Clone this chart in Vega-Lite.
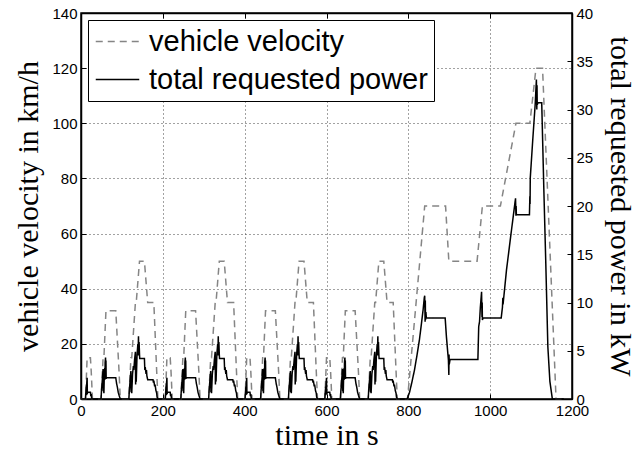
{
  "$schema": "https://vega.github.io/schema/vega-lite/v6.json",
  "width": 491,
  "height": 386,
  "autosize": {"type": "none"},
  "padding": {"left": 81, "top": 13, "right": 67, "bottom": 52},
  "background": "white",
  "config": {
    "view": {"stroke": "black", "strokeWidth": 1.5},
    "axis": {
      "labelFont": "Arial, Liberation Sans, sans-serif", "labelFontSize": 15, "labelColor": "black", "labelFlush": false,
      "titleFont": "Times New Roman, Liberation Serif, serif", "titleFontSize": 30, "titleFontWeight": "normal", "titleColor": "black",
      "domainColor": "black", "domainWidth": 1.5, "tickColor": "black", "tickSize": -5, "labelPadding": 9,
      "gridColor": "#444444", "gridDash": [1, 3], "gridOpacity": 1, "gridWidth": 1
    },
    "legend": {
      "labelFont": "Arial, Liberation Sans, sans-serif", "labelFontSize": 29, "labelColor": "black", "labelLimit": 0,
      "symbolType": "M-1.5,0H1.5", "symbolSize": 841, "symbolStrokeWidth": 1.3, "symbolOffset": 8,
      "strokeColor": "black", "fillColor": "white", "padding": 6, "rowPadding": 7, "labelOffset": 16
    }
  },
  "datasets": {
    "velocity": [
      {"t":0,"v":0},{"t":11,"v":0},{"t":15,"v":15},{"t":23,"v":15},{"t":25,"v":10},{"t":28,"v":0},{"t":49,"v":0},{"t":54,"v":15},{"t":56,"v":15},{"t":61,"v":32},{"t":85,"v":32},{"t":93,"v":10},{"t":96,"v":0},{"t":117,"v":0},{"t":122,"v":15},{"t":124,"v":15},{"t":133,"v":35},{"t":135,"v":35},{"t":143,"v":50},{"t":155,"v":50},{"t":163,"v":35},{"t":178,"v":35},{"t":185,"v":10},{"t":188,"v":0},
      {"t":195,"v":0},{"t":206,"v":0},{"t":210,"v":15},{"t":218,"v":15},{"t":220,"v":10},{"t":223,"v":0},{"t":244,"v":0},{"t":249,"v":15},{"t":251,"v":15},{"t":256,"v":32},{"t":280,"v":32},{"t":288,"v":10},{"t":291,"v":0},{"t":312,"v":0},{"t":317,"v":15},{"t":319,"v":15},{"t":328,"v":35},{"t":330,"v":35},{"t":338,"v":50},{"t":350,"v":50},{"t":358,"v":35},{"t":373,"v":35},{"t":380,"v":10},{"t":383,"v":0},
      {"t":390,"v":0},{"t":401,"v":0},{"t":405,"v":15},{"t":413,"v":15},{"t":415,"v":10},{"t":418,"v":0},{"t":439,"v":0},{"t":444,"v":15},{"t":446,"v":15},{"t":451,"v":32},{"t":475,"v":32},{"t":483,"v":10},{"t":486,"v":0},{"t":507,"v":0},{"t":512,"v":15},{"t":514,"v":15},{"t":523,"v":35},{"t":525,"v":35},{"t":533,"v":50},{"t":545,"v":50},{"t":553,"v":35},{"t":568,"v":35},{"t":575,"v":10},{"t":578,"v":0},
      {"t":585,"v":0},{"t":596,"v":0},{"t":600,"v":15},{"t":608,"v":15},{"t":610,"v":10},{"t":613,"v":0},{"t":634,"v":0},{"t":639,"v":15},{"t":641,"v":15},{"t":646,"v":32},{"t":670,"v":32},{"t":678,"v":10},{"t":681,"v":0},{"t":702,"v":0},{"t":707,"v":15},{"t":709,"v":15},{"t":718,"v":35},{"t":720,"v":35},{"t":728,"v":50},{"t":740,"v":50},{"t":748,"v":35},{"t":763,"v":35},{"t":770,"v":10},{"t":773,"v":0},
      {"t":780,"v":0},{"t":798,"v":0},{"t":840,"v":70},{"t":891,"v":70},{"t":899,"v":50},{"t":968,"v":50},{"t":981,"v":70},{"t":1025,"v":70},{"t":1063,"v":100},{"t":1097,"v":100},{"t":1112,"v":120},{"t":1128,"v":120},{"t":1161,"v":0},{"t":1180,"v":0}
    ],
    "power": [
      {"t":0,"p":0},{"t":11,"p":0},{"t":11.5,"p":0.5},{"t":13,"p":1.3},{"t":13.5,"p":0.4},{"t":14,"p":1.6},{"t":15,"p":2.2},{"t":15.5,"p":0.5},{"t":16,"p":0.7},{"t":23,"p":0.7},{"t":24,"p":0.3},{"t":25,"p":0.5},{"t":26,"p":0.1},{"t":28,"p":0},
      {"t":49,"p":0},{"t":50,"p":0.8},{"t":52,"p":1.9},{"t":54,"p":3.1},{"t":54.5,"p":0.8},{"t":55,"p":1.2},{"t":56,"p":0.6},{"t":57,"p":2.6},{"t":58,"p":3.2},{"t":58.5,"p":2.0},{"t":59,"p":3.8},{"t":60,"p":4.3},{"t":60.5,"p":2.8},{"t":61,"p":4.0},{"t":61.5,"p":2.1},{"t":62,"p":2.2},{"t":85,"p":2.2},{"t":87,"p":1.6},{"t":89,"p":1.2},{"t":91,"p":0.7},{"t":93,"p":0.4},{"t":96,"p":0},
      {"t":117,"p":0},{"t":118,"p":0.8},{"t":120,"p":1.9},{"t":122,"p":2.9},{"t":122.5,"p":0.7},{"t":123,"p":1.3},{"t":124,"p":0.6},{"t":126,"p":2.6},{"t":128,"p":3.4},{"t":129,"p":3.0},{"t":131,"p":4.1},{"t":133,"p":4.9},{"t":133.5,"p":1.5},{"t":134,"p":2.5},{"t":135,"p":1.8},{"t":137,"p":4.6},{"t":139,"p":5.7},{"t":139.5,"p":4.5},{"t":140.5,"p":6.5},{"t":141,"p":5.2},{"t":142,"p":5.9},{"t":143,"p":4.6},{"t":143.5,"p":4.2},{"t":155,"p":4.2},{"t":156,"p":3.0},{"t":157,"p":3.3},{"t":159,"p":2.6},{"t":160,"p":3.0},{"t":161,"p":2.4},{"t":163,"p":2.0},{"t":176,"p":2.0},{"t":177,"p":1.7},{"t":178,"p":1.9},{"t":180,"p":1.3},{"t":181,"p":1.5},{"t":183,"p":0.9},{"t":185,"p":0.6},{"t":186,"p":0.2},{"t":188,"p":0},
      {"t":195,"p":0},{"t":206,"p":0},{"t":206.5,"p":0.5},{"t":208,"p":1.3},{"t":208.5,"p":0.4},{"t":209,"p":1.6},{"t":210,"p":2.2},{"t":210.5,"p":0.5},{"t":211,"p":0.7},{"t":218,"p":0.7},{"t":219,"p":0.3},{"t":220,"p":0.5},{"t":221,"p":0.1},{"t":223,"p":0},
      {"t":244,"p":0},{"t":245,"p":0.8},{"t":247,"p":1.9},{"t":249,"p":3.1},{"t":249.5,"p":0.8},{"t":250,"p":1.2},{"t":251,"p":0.6},{"t":252,"p":2.6},{"t":253,"p":3.2},{"t":253.5,"p":2.0},{"t":254,"p":3.8},{"t":255,"p":4.3},{"t":255.5,"p":2.8},{"t":256,"p":4.0},{"t":256.5,"p":2.1},{"t":257,"p":2.2},{"t":280,"p":2.2},{"t":282,"p":1.6},{"t":284,"p":1.2},{"t":286,"p":0.7},{"t":288,"p":0.4},{"t":291,"p":0},
      {"t":312,"p":0},{"t":313,"p":0.8},{"t":315,"p":1.9},{"t":317,"p":2.9},{"t":317.5,"p":0.7},{"t":318,"p":1.3},{"t":319,"p":0.6},{"t":321,"p":2.6},{"t":323,"p":3.4},{"t":324,"p":3.0},{"t":326,"p":4.1},{"t":328,"p":4.9},{"t":328.5,"p":1.5},{"t":329,"p":2.5},{"t":330,"p":1.8},{"t":332,"p":4.6},{"t":334,"p":5.7},{"t":334.5,"p":4.5},{"t":335.5,"p":6.5},{"t":336,"p":5.2},{"t":337,"p":5.9},{"t":338,"p":4.6},{"t":338.5,"p":4.2},{"t":350,"p":4.2},{"t":351,"p":3.0},{"t":352,"p":3.3},{"t":354,"p":2.6},{"t":355,"p":3.0},{"t":356,"p":2.4},{"t":358,"p":2.0},{"t":371,"p":2.0},{"t":372,"p":1.7},{"t":373,"p":1.9},{"t":375,"p":1.3},{"t":376,"p":1.5},{"t":378,"p":0.9},{"t":380,"p":0.6},{"t":381,"p":0.2},{"t":383,"p":0},
      {"t":390,"p":0},{"t":401,"p":0},{"t":401.5,"p":0.5},{"t":403,"p":1.3},{"t":403.5,"p":0.4},{"t":404,"p":1.6},{"t":405,"p":2.2},{"t":405.5,"p":0.5},{"t":406,"p":0.7},{"t":413,"p":0.7},{"t":414,"p":0.3},{"t":415,"p":0.5},{"t":416,"p":0.1},{"t":418,"p":0},
      {"t":439,"p":0},{"t":440,"p":0.8},{"t":442,"p":1.9},{"t":444,"p":3.1},{"t":444.5,"p":0.8},{"t":445,"p":1.2},{"t":446,"p":0.6},{"t":447,"p":2.6},{"t":448,"p":3.2},{"t":448.5,"p":2.0},{"t":449,"p":3.8},{"t":450,"p":4.3},{"t":450.5,"p":2.8},{"t":451,"p":4.0},{"t":451.5,"p":2.1},{"t":452,"p":2.2},{"t":475,"p":2.2},{"t":477,"p":1.6},{"t":479,"p":1.2},{"t":481,"p":0.7},{"t":483,"p":0.4},{"t":486,"p":0},
      {"t":507,"p":0},{"t":508,"p":0.8},{"t":510,"p":1.9},{"t":512,"p":2.9},{"t":512.5,"p":0.7},{"t":513,"p":1.3},{"t":514,"p":0.6},{"t":516,"p":2.6},{"t":518,"p":3.4},{"t":519,"p":3.0},{"t":521,"p":4.1},{"t":523,"p":4.9},{"t":523.5,"p":1.5},{"t":524,"p":2.5},{"t":525,"p":1.8},{"t":527,"p":4.6},{"t":529,"p":5.7},{"t":529.5,"p":4.5},{"t":530.5,"p":6.5},{"t":531,"p":5.2},{"t":532,"p":5.9},{"t":533,"p":4.6},{"t":533.5,"p":4.2},{"t":545,"p":4.2},{"t":546,"p":3.0},{"t":547,"p":3.3},{"t":549,"p":2.6},{"t":550,"p":3.0},{"t":551,"p":2.4},{"t":553,"p":2.0},{"t":566,"p":2.0},{"t":567,"p":1.7},{"t":568,"p":1.9},{"t":570,"p":1.3},{"t":571,"p":1.5},{"t":573,"p":0.9},{"t":575,"p":0.6},{"t":576,"p":0.2},{"t":578,"p":0},
      {"t":585,"p":0},{"t":596,"p":0},{"t":596.5,"p":0.5},{"t":598,"p":1.3},{"t":598.5,"p":0.4},{"t":599,"p":1.6},{"t":600,"p":2.2},{"t":600.5,"p":0.5},{"t":601,"p":0.7},{"t":608,"p":0.7},{"t":609,"p":0.3},{"t":610,"p":0.5},{"t":611,"p":0.1},{"t":613,"p":0},
      {"t":634,"p":0},{"t":635,"p":0.8},{"t":637,"p":1.9},{"t":639,"p":3.1},{"t":639.5,"p":0.8},{"t":640,"p":1.2},{"t":641,"p":0.6},{"t":642,"p":2.6},{"t":643,"p":3.2},{"t":643.5,"p":2.0},{"t":644,"p":3.8},{"t":645,"p":4.3},{"t":645.5,"p":2.8},{"t":646,"p":4.0},{"t":646.5,"p":2.1},{"t":647,"p":2.2},{"t":670,"p":2.2},{"t":672,"p":1.6},{"t":674,"p":1.2},{"t":676,"p":0.7},{"t":678,"p":0.4},{"t":681,"p":0},
      {"t":702,"p":0},{"t":703,"p":0.8},{"t":705,"p":1.9},{"t":707,"p":2.9},{"t":707.5,"p":0.7},{"t":708,"p":1.3},{"t":709,"p":0.6},{"t":711,"p":2.6},{"t":713,"p":3.4},{"t":714,"p":3.0},{"t":716,"p":4.1},{"t":718,"p":4.9},{"t":718.5,"p":1.5},{"t":719,"p":2.5},{"t":720,"p":1.8},{"t":722,"p":4.6},{"t":724,"p":5.7},{"t":724.5,"p":4.5},{"t":725.5,"p":6.5},{"t":726,"p":5.2},{"t":727,"p":5.9},{"t":728,"p":4.6},{"t":728.5,"p":4.2},{"t":740,"p":4.2},{"t":741,"p":3.0},{"t":742,"p":3.3},{"t":744,"p":2.6},{"t":745,"p":3.0},{"t":746,"p":2.4},{"t":748,"p":2.0},{"t":761,"p":2.0},{"t":762,"p":1.7},{"t":763,"p":1.9},{"t":765,"p":1.3},{"t":766,"p":1.5},{"t":768,"p":0.9},{"t":770,"p":0.6},{"t":771,"p":0.2},{"t":773,"p":0},
      {"t":780,"p":0},{"t":797,"p":0},{"t":803,"p":0.7},{"t":809,"p":1.8},{"t":815,"p":3.0},{"t":821,"p":4.5},{"t":827,"p":6.1},{"t":832,"p":7.8},{"t":836,"p":9.2},{"t":839,"p":10.5},{"t":840,"p":10.7},{"t":841,"p":8.0},{"t":841.5,"p":10.2},{"t":842,"p":8.2},{"t":843,"p":9.0},{"t":844,"p":8.4},{"t":890,"p":8.4},{"t":893,"p":6.5},{"t":896,"p":5.0},{"t":898,"p":4.0},{"t":899,"p":2.5},{"t":899.5,"p":4.6},{"t":900,"p":3.6},{"t":902,"p":4.1},{"t":970,"p":4.1},{"t":972,"p":7.5},{"t":974,"p":8.0},{"t":976,"p":9.5},{"t":979,"p":11.1},{"t":980,"p":8.5},{"t":980.5,"p":10.0},{"t":981,"p":8.2},{"t":983,"p":8.4},{"t":1027,"p":8.4},{"t":1030,"p":9.5},{"t":1031,"p":10.5},{"t":1031.5,"p":9.8},{"t":1040,"p":13.4},{"t":1050,"p":16.8},{"t":1062,"p":20.8},{"t":1063,"p":19.0},{"t":1063.5,"p":20.0},{"t":1064,"p":19.1},{"t":1096,"p":19.1},{"t":1097,"p":21.0},{"t":1097.5,"p":20.2},{"t":1098,"p":22.9},{"t":1104,"p":26.8},{"t":1110,"p":30.5},{"t":1113,"p":33.1},{"t":1114,"p":30.0},{"t":1114.5,"p":32.5},{"t":1115,"p":30.5},{"t":1117,"p":30.7},{"t":1126,"p":30.7},{"t":1131,"p":22},{"t":1136,"p":14},{"t":1141,"p":5.4},{"t":1146,"p":1.8},{"t":1152,"p":0},{"t":1180,"p":0}
    ]
  },
  "layer": [
    {
      "data": {"name": "velocity"},
      "mark": {"type": "line", "strokeWidth": 1.5},
      "encoding": {
        "x": {"field": "t", "type": "quantitative", "scale": {"domain": [0, 1200], "nice": false},
              "axis": {"title": "time in s", "values": [0, 200, 400, 600, 800, 1000, 1200], "format": "d", "grid": true, "titlePadding": 2}},
        "y": {"field": "v", "type": "quantitative", "scale": {"domain": [0, 140], "nice": false},
              "axis": {"title": "vehicle velocity in km/h", "values": [0, 20, 40, 60, 80, 100, 120, 140], "grid": true, "titlePadding": 8}},
        "color": {"datum": "vehicle velocity", "type": "nominal",
                  "scale": {"domain": ["vehicle velocity", "total requested power"], "range": ["#858585", "black"]},
                  "legend": {"title": null, "orient": "none", "legendX": 7, "legendY": 7}},
        "strokeDash": {"datum": "vehicle velocity", "type": "nominal",
                  "scale": {"domain": ["vehicle velocity", "total requested power"], "range": [[7, 5], [1, 0]]},
                  "legend": {"title": null, "orient": "none", "legendX": 7, "legendY": 7}}
      }
    },
    {
      "data": {"name": "power"},
      "mark": {"type": "line", "strokeWidth": 1.5},
      "encoding": {
        "x": {"field": "t", "type": "quantitative",
              "axis": {"orient": "top", "title": null, "labels": false, "values": [0, 200, 400, 600, 800, 1000, 1200], "grid": false}},
        "y": {"field": "p", "type": "quantitative", "scale": {"domain": [0, 40], "nice": false},
              "axis": {"orient": "right", "title": "total requested power in kW", "values": [0, 5, 10, 15, 20, 25, 30, 35, 40], "grid": false, "titlePadding": 12}},
        "color": {"datum": "total requested power", "type": "nominal"},
        "strokeDash": {"datum": "total requested power", "type": "nominal"}
      }
    }
  ],
  "resolve": {"scale": {"y": "independent"}, "axis": {"x": "independent"}}
}
